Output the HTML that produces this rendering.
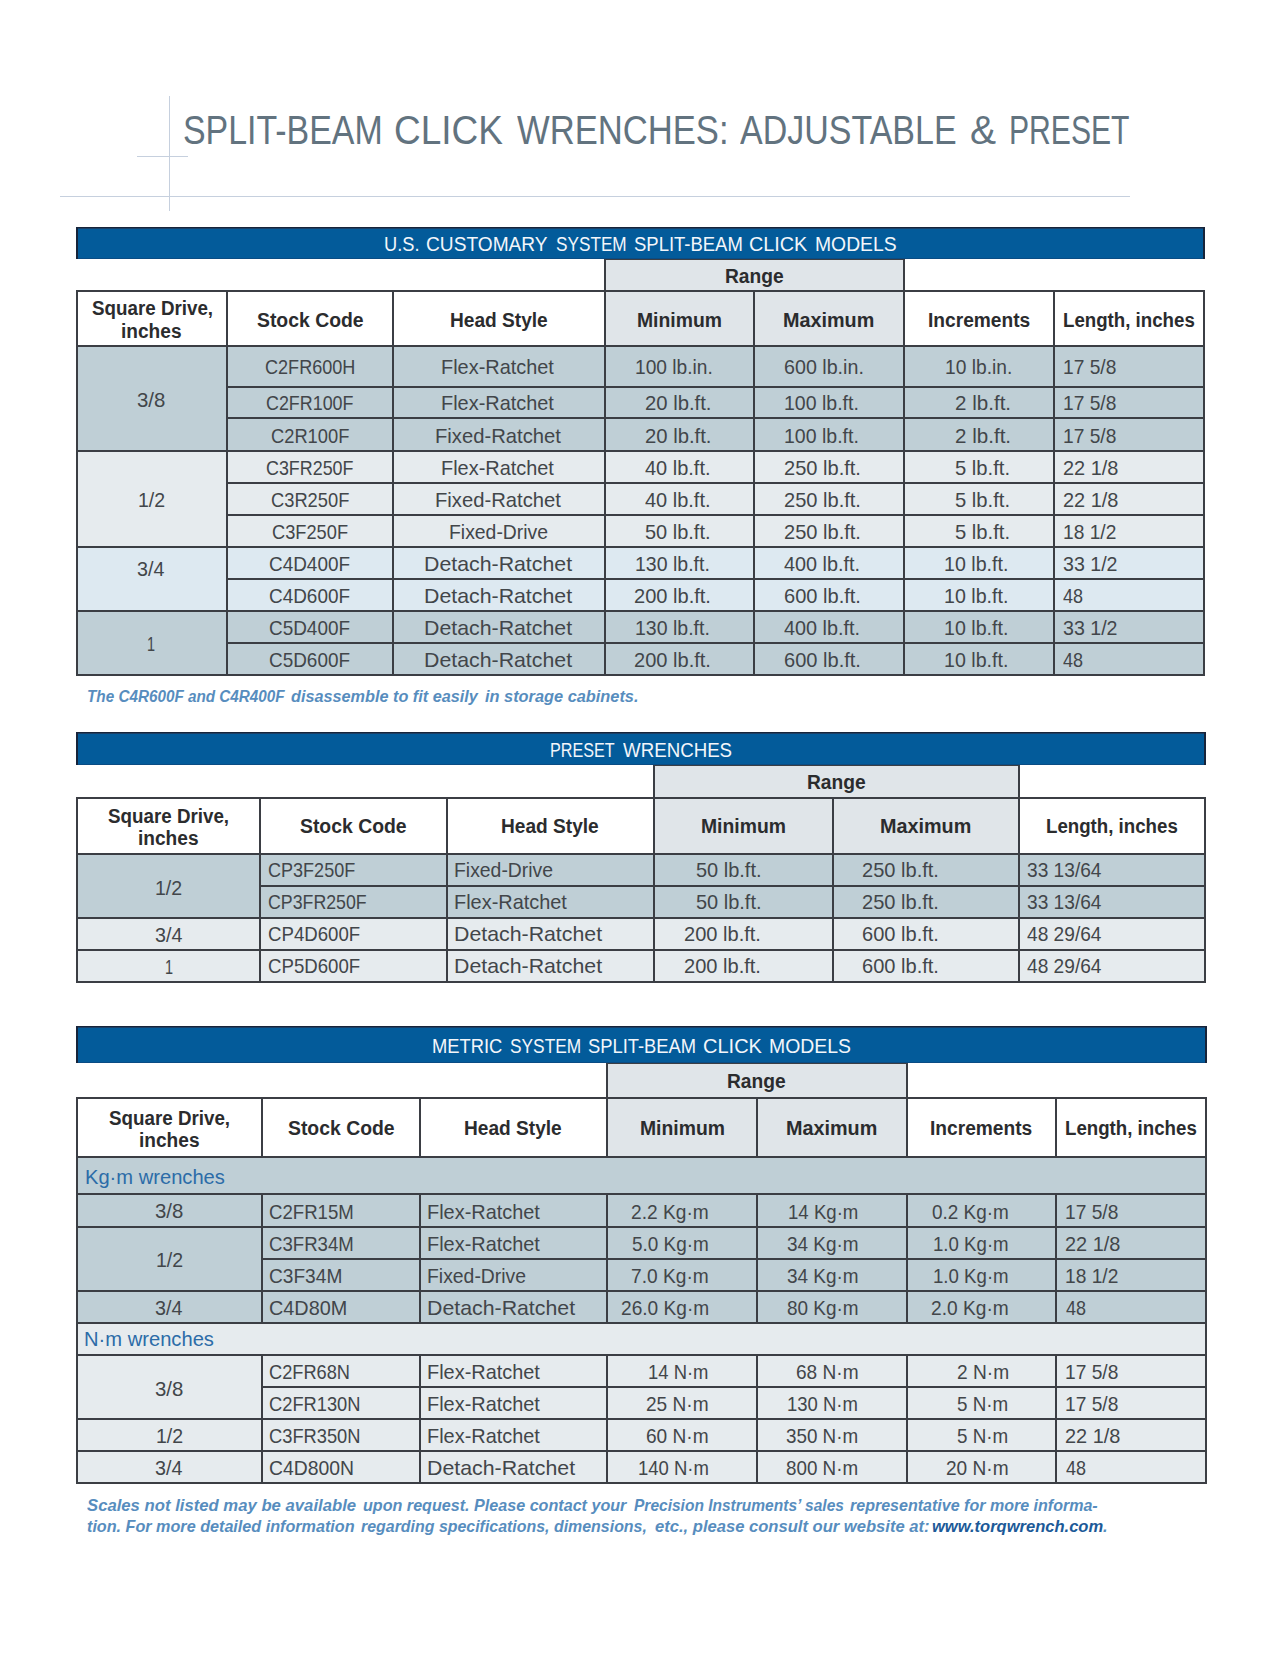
<!DOCTYPE html>
<html><head><meta charset="utf-8"><title>Split-Beam Click Wrenches: Adjustable &amp; Preset</title>
<style>
html,body{margin:0;padding:0;background:#fff}
body{width:1280px;height:1657px;position:relative;overflow:hidden;font-family:"Liberation Sans",Arial,sans-serif}
body>div{position:absolute}
.t{white-space:nowrap;transform-origin:0 0}
</style></head><body>
<div style="left:60px;top:196px;width:1070px;height:1px;background:#c6d0de"></div>
<div style="left:169px;top:96px;width:1px;height:115px;background:#c6d0de"></div>
<div style="left:137px;top:156px;width:51px;height:1px;background:#c6d0de"></div>
<div style="left:76px;top:227px;width:1129px;height:32px;background:#17243a"></div>
<div style="left:78px;top:228px;width:1125px;height:1px;background:#1b3f66"></div>
<div style="left:78px;top:229px;width:1125px;height:30px;background:#035b9a"></div>
<div style="left:78px;top:258px;width:1125px;height:1px;background:#0a4c84"></div>
<div style="left:604px;top:259px;width:301px;height:32px;background:#e0e5e9"></div>
<div style="left:604px;top:259px;width:301px;height:1px;background:#3b3e44"></div>
<div style="left:604px;top:259px;width:2px;height:32px;background:#3b3e44"></div>
<div style="left:903px;top:259px;width:2px;height:32px;background:#3b3e44"></div>
<div style="left:604px;top:290px;width:299px;height:55px;background:#e0e5e9"></div>
<div style="left:76px;top:345px;width:1129px;height:105px;background:#bfcfd6"></div>
<div style="left:76px;top:450px;width:1129px;height:96px;background:#e6ebee"></div>
<div style="left:76px;top:546px;width:1129px;height:64px;background:#dde9f1"></div>
<div style="left:76px;top:610px;width:1129px;height:64px;background:#bfcfd6"></div>
<div style="left:76px;top:290px;width:1129px;height:2px;background:#3b3e44"></div>
<div style="left:76px;top:345px;width:1129px;height:2px;background:#3b3e44"></div>
<div style="left:226px;top:386px;width:979px;height:2px;background:#3b3e44"></div>
<div style="left:226px;top:417px;width:979px;height:2px;background:#3b3e44"></div>
<div style="left:76px;top:450px;width:1129px;height:2px;background:#3b3e44"></div>
<div style="left:226px;top:482px;width:979px;height:2px;background:#3b3e44"></div>
<div style="left:226px;top:514px;width:979px;height:2px;background:#3b3e44"></div>
<div style="left:76px;top:546px;width:1129px;height:2px;background:#3b3e44"></div>
<div style="left:226px;top:578px;width:979px;height:2px;background:#3b3e44"></div>
<div style="left:76px;top:610px;width:1129px;height:2px;background:#3b3e44"></div>
<div style="left:226px;top:642px;width:979px;height:2px;background:#3b3e44"></div>
<div style="left:76px;top:674px;width:1129px;height:2px;background:#3b3e44"></div>
<div style="left:76px;top:290px;width:2px;height:386px;background:#3b3e44"></div>
<div style="left:226px;top:290px;width:2px;height:386px;background:#3b3e44"></div>
<div style="left:392px;top:290px;width:2px;height:386px;background:#3b3e44"></div>
<div style="left:604px;top:290px;width:2px;height:386px;background:#3b3e44"></div>
<div style="left:753px;top:290px;width:2px;height:386px;background:#3b3e44"></div>
<div style="left:903px;top:290px;width:2px;height:386px;background:#3b3e44"></div>
<div style="left:1053px;top:290px;width:2px;height:386px;background:#3b3e44"></div>
<div style="left:1203px;top:290px;width:2px;height:386px;background:#3b3e44"></div>
<div style="left:76px;top:732px;width:1130px;height:33px;background:#17243a"></div>
<div style="left:78px;top:733px;width:1126px;height:1px;background:#1b3f66"></div>
<div style="left:78px;top:734px;width:1126px;height:31px;background:#035b9a"></div>
<div style="left:78px;top:764px;width:1126px;height:1px;background:#0a4c84"></div>
<div style="left:653px;top:765px;width:367px;height:32px;background:#e0e5e9"></div>
<div style="left:653px;top:765px;width:367px;height:1px;background:#3b3e44"></div>
<div style="left:653px;top:765px;width:2px;height:32px;background:#3b3e44"></div>
<div style="left:1018px;top:765px;width:2px;height:32px;background:#3b3e44"></div>
<div style="left:653px;top:797px;width:365px;height:56px;background:#e0e5e9"></div>
<div style="left:76px;top:853px;width:1130px;height:64px;background:#bfcfd6"></div>
<div style="left:76px;top:917px;width:1130px;height:32px;background:#e6ebee"></div>
<div style="left:76px;top:949px;width:1130px;height:32px;background:#e6ebee"></div>
<div style="left:76px;top:797px;width:1130px;height:2px;background:#3b3e44"></div>
<div style="left:76px;top:853px;width:1130px;height:2px;background:#3b3e44"></div>
<div style="left:259px;top:885px;width:947px;height:2px;background:#3b3e44"></div>
<div style="left:76px;top:917px;width:1130px;height:2px;background:#3b3e44"></div>
<div style="left:76px;top:949px;width:1130px;height:2px;background:#3b3e44"></div>
<div style="left:76px;top:981px;width:1130px;height:2px;background:#3b3e44"></div>
<div style="left:76px;top:797px;width:2px;height:186px;background:#3b3e44"></div>
<div style="left:259px;top:797px;width:2px;height:186px;background:#3b3e44"></div>
<div style="left:446px;top:797px;width:2px;height:186px;background:#3b3e44"></div>
<div style="left:653px;top:797px;width:2px;height:186px;background:#3b3e44"></div>
<div style="left:832px;top:797px;width:2px;height:186px;background:#3b3e44"></div>
<div style="left:1018px;top:797px;width:2px;height:186px;background:#3b3e44"></div>
<div style="left:1204px;top:797px;width:2px;height:186px;background:#3b3e44"></div>
<div style="left:76px;top:1026px;width:1131px;height:37px;background:#17243a"></div>
<div style="left:78px;top:1027px;width:1127px;height:1px;background:#1b3f66"></div>
<div style="left:78px;top:1028px;width:1127px;height:35px;background:#035b9a"></div>
<div style="left:78px;top:1062px;width:1127px;height:1px;background:#0a4c84"></div>
<div style="left:606px;top:1063px;width:302px;height:35px;background:#e0e5e9"></div>
<div style="left:606px;top:1063px;width:302px;height:1px;background:#3b3e44"></div>
<div style="left:606px;top:1063px;width:2px;height:35px;background:#3b3e44"></div>
<div style="left:906px;top:1063px;width:2px;height:35px;background:#3b3e44"></div>
<div style="left:606px;top:1097px;width:300px;height:59px;background:#e0e5e9"></div>
<div style="left:76px;top:1156px;width:1131px;height:166px;background:#bfcfd6"></div>
<div style="left:76px;top:1322px;width:1131px;height:160px;background:#e6ebee"></div>
<div style="left:76px;top:1097px;width:1131px;height:2px;background:#3b3e44"></div>
<div style="left:76px;top:1156px;width:1131px;height:2px;background:#3b3e44"></div>
<div style="left:76px;top:1193px;width:1131px;height:2px;background:#3b3e44"></div>
<div style="left:76px;top:1226px;width:1131px;height:2px;background:#3b3e44"></div>
<div style="left:261px;top:1258px;width:946px;height:2px;background:#3b3e44"></div>
<div style="left:76px;top:1290px;width:1131px;height:2px;background:#3b3e44"></div>
<div style="left:76px;top:1322px;width:1131px;height:2px;background:#3b3e44"></div>
<div style="left:76px;top:1354px;width:1131px;height:2px;background:#3b3e44"></div>
<div style="left:261px;top:1386px;width:946px;height:2px;background:#3b3e44"></div>
<div style="left:76px;top:1418px;width:1131px;height:2px;background:#3b3e44"></div>
<div style="left:76px;top:1450px;width:1131px;height:2px;background:#3b3e44"></div>
<div style="left:76px;top:1482px;width:1131px;height:2px;background:#3b3e44"></div>
<div style="left:76px;top:1097px;width:2px;height:387px;background:#3b3e44"></div>
<div style="left:261px;top:1097px;width:2px;height:61px;background:#3b3e44"></div>
<div style="left:261px;top:1193px;width:2px;height:131px;background:#3b3e44"></div>
<div style="left:261px;top:1354px;width:2px;height:130px;background:#3b3e44"></div>
<div style="left:419px;top:1097px;width:2px;height:61px;background:#3b3e44"></div>
<div style="left:419px;top:1193px;width:2px;height:131px;background:#3b3e44"></div>
<div style="left:419px;top:1354px;width:2px;height:130px;background:#3b3e44"></div>
<div style="left:606px;top:1097px;width:2px;height:61px;background:#3b3e44"></div>
<div style="left:606px;top:1193px;width:2px;height:131px;background:#3b3e44"></div>
<div style="left:606px;top:1354px;width:2px;height:130px;background:#3b3e44"></div>
<div style="left:756px;top:1097px;width:2px;height:61px;background:#3b3e44"></div>
<div style="left:756px;top:1193px;width:2px;height:131px;background:#3b3e44"></div>
<div style="left:756px;top:1354px;width:2px;height:130px;background:#3b3e44"></div>
<div style="left:906px;top:1097px;width:2px;height:61px;background:#3b3e44"></div>
<div style="left:906px;top:1193px;width:2px;height:131px;background:#3b3e44"></div>
<div style="left:906px;top:1354px;width:2px;height:130px;background:#3b3e44"></div>
<div style="left:1055px;top:1097px;width:2px;height:61px;background:#3b3e44"></div>
<div style="left:1055px;top:1193px;width:2px;height:131px;background:#3b3e44"></div>
<div style="left:1055px;top:1354px;width:2px;height:130px;background:#3b3e44"></div>
<div style="left:1205px;top:1097px;width:2px;height:387px;background:#3b3e44"></div>
<div class="t" style="left:183.27px;top:109.95px;font-size:40.7px;line-height:40.7px;color:#62737f;transform:scaleX(0.8330);">SPLIT-BEAM</div>
<div class="t" style="left:394.48px;top:109.95px;font-size:40.7px;line-height:40.7px;color:#62737f;transform:scaleX(0.9082);">CLICK</div>
<div class="t" style="left:517.20px;top:109.95px;font-size:40.7px;line-height:40.7px;color:#62737f;transform:scaleX(0.8506);">WRENCHES:</div>
<div class="t" style="left:740.20px;top:109.95px;font-size:40.7px;line-height:40.7px;color:#62737f;transform:scaleX(0.8353);">ADJUSTABLE</div>
<div class="t" style="left:969.94px;top:109.95px;font-size:40.7px;line-height:40.7px;color:#62737f;transform:scaleX(0.9615);">&amp;</div>
<div class="t" style="left:1008.98px;top:109.95px;font-size:40.7px;line-height:40.7px;color:#62737f;transform:scaleX(0.7399);">PRESET</div>
<div class="t" style="left:383.60px;top:234.32px;font-size:20.3px;line-height:20.3px;color:#f3f6fa;transform:scaleX(0.8992);">U.S.</div>
<div class="t" style="left:426.16px;top:234.32px;font-size:20.3px;line-height:20.3px;color:#f3f6fa;transform:scaleX(0.9437);">CUSTOMARY</div>
<div class="t" style="left:556.30px;top:234.32px;font-size:20.3px;line-height:20.3px;color:#f3f6fa;transform:scaleX(0.8473);">SYSTEM</div>
<div class="t" style="left:633.80px;top:234.32px;font-size:20.3px;line-height:20.3px;color:#f3f6fa;transform:scaleX(0.9108);">SPLIT-BEAM</div>
<div class="t" style="left:748.82px;top:234.32px;font-size:20.3px;line-height:20.3px;color:#f3f6fa;transform:scaleX(0.9762);">CLICK</div>
<div class="t" style="left:815.05px;top:234.32px;font-size:20.3px;line-height:20.3px;color:#f3f6fa;transform:scaleX(0.9534);">MODELS</div>
<div class="t" style="left:724.80px;top:266.12px;font-size:20.3px;line-height:20.3px;color:#2b2c2e;font-weight:700;transform:scaleX(0.9472);">Range</div>
<div class="t" style="left:91.75px;top:298.22px;font-size:20.3px;line-height:20.3px;color:#2b2c2e;font-weight:700;transform:scaleX(0.9260);">Square Drive,</div>
<div class="t" style="left:121.41px;top:320.92px;font-size:20.3px;line-height:20.3px;color:#2b2c2e;font-weight:700;transform:scaleX(0.9417);">inches</div>
<div class="t" style="left:256.85px;top:309.82px;font-size:20.3px;line-height:20.3px;color:#2b2c2e;font-weight:700;transform:scaleX(0.9552);">Stock Code</div>
<div class="t" style="left:449.81px;top:309.82px;font-size:20.3px;line-height:20.3px;color:#2b2c2e;font-weight:700;transform:scaleX(0.9422);">Head Style</div>
<div class="t" style="left:637.05px;top:309.82px;font-size:20.3px;line-height:20.3px;color:#2b2c2e;font-weight:700;transform:scaleX(0.9543);">Minimum</div>
<div class="t" style="left:783.37px;top:309.82px;font-size:20.3px;line-height:20.3px;color:#2b2c2e;font-weight:700;transform:scaleX(0.9758);">Maximum</div>
<div class="t" style="left:927.56px;top:309.82px;font-size:20.3px;line-height:20.3px;color:#2b2c2e;font-weight:700;transform:scaleX(0.9445);">Increments</div>
<div class="t" style="left:1062.78px;top:309.82px;font-size:20.3px;line-height:20.3px;color:#2b2c2e;font-weight:700;transform:scaleX(0.9208);">Length, inches</div>
<div class="t" style="left:264.88px;top:356.22px;font-size:21px;line-height:21px;color:#42464a;transform:scaleX(0.8605);">C2FR600H</div>
<div class="t" style="left:441.29px;top:356.22px;font-size:21px;line-height:21px;color:#42464a;transform:scaleX(0.9485);">Flex-Ratchet</div>
<div class="t" style="left:635.25px;top:356.22px;font-size:21px;line-height:21px;color:#42464a;transform:scaleX(0.9118);">100 lb.in.</div>
<div class="t" style="left:784.10px;top:356.22px;font-size:21px;line-height:21px;color:#42464a;transform:scaleX(0.9370);">600 lb.in.</div>
<div class="t" style="left:944.64px;top:356.22px;font-size:21px;line-height:21px;color:#42464a;transform:scaleX(0.9143);">10 lb.in.</div>
<div class="t" style="left:1062.80px;top:356.22px;font-size:21px;line-height:21px;color:#42464a;transform:scaleX(0.9132);">17 5/8</div>
<div class="t" style="left:266.19px;top:392.02px;font-size:21px;line-height:21px;color:#42464a;transform:scaleX(0.8517);">C2FR100F</div>
<div class="t" style="left:441.29px;top:392.02px;font-size:21px;line-height:21px;color:#42464a;transform:scaleX(0.9485);">Flex-Ratchet</div>
<div class="t" style="left:644.65px;top:392.02px;font-size:21px;line-height:21px;color:#42464a;transform:scaleX(0.9656);">20 lb.ft.</div>
<div class="t" style="left:784.10px;top:392.02px;font-size:21px;line-height:21px;color:#42464a;transform:scaleX(0.9285);">100 lb.ft.</div>
<div class="t" style="left:954.55px;top:392.02px;font-size:21px;line-height:21px;color:#42464a;transform:scaleX(0.9804);">2 lb.ft.</div>
<div class="t" style="left:1062.80px;top:392.02px;font-size:21px;line-height:21px;color:#42464a;transform:scaleX(0.9132);">17 5/8</div>
<div class="t" style="left:270.75px;top:425.02px;font-size:21px;line-height:21px;color:#42464a;transform:scaleX(0.8717);">C2R100F</div>
<div class="t" style="left:434.81px;top:425.02px;font-size:21px;line-height:21px;color:#42464a;transform:scaleX(0.9629);">Fixed-Ratchet</div>
<div class="t" style="left:644.65px;top:425.02px;font-size:21px;line-height:21px;color:#42464a;transform:scaleX(0.9656);">20 lb.ft.</div>
<div class="t" style="left:784.10px;top:425.02px;font-size:21px;line-height:21px;color:#42464a;transform:scaleX(0.9285);">100 lb.ft.</div>
<div class="t" style="left:954.55px;top:425.02px;font-size:21px;line-height:21px;color:#42464a;transform:scaleX(0.9804);">2 lb.ft.</div>
<div class="t" style="left:1062.80px;top:425.02px;font-size:21px;line-height:21px;color:#42464a;transform:scaleX(0.9132);">17 5/8</div>
<div class="t" style="left:266.19px;top:457.02px;font-size:21px;line-height:21px;color:#42464a;transform:scaleX(0.8517);">C3FR250F</div>
<div class="t" style="left:441.29px;top:457.02px;font-size:21px;line-height:21px;color:#42464a;transform:scaleX(0.9485);">Flex-Ratchet</div>
<div class="t" style="left:644.98px;top:457.02px;font-size:21px;line-height:21px;color:#42464a;transform:scaleX(0.9512);">40 lb.ft.</div>
<div class="t" style="left:784.10px;top:457.02px;font-size:21px;line-height:21px;color:#42464a;transform:scaleX(0.9552);">250 lb.ft.</div>
<div class="t" style="left:954.76px;top:457.02px;font-size:21px;line-height:21px;color:#42464a;transform:scaleX(0.9627);">5 lb.ft.</div>
<div class="t" style="left:1062.80px;top:457.02px;font-size:21px;line-height:21px;color:#42464a;transform:scaleX(0.9499);">22 1/8</div>
<div class="t" style="left:270.75px;top:489.02px;font-size:21px;line-height:21px;color:#42464a;transform:scaleX(0.8717);">C3R250F</div>
<div class="t" style="left:434.81px;top:489.02px;font-size:21px;line-height:21px;color:#42464a;transform:scaleX(0.9629);">Fixed-Ratchet</div>
<div class="t" style="left:644.98px;top:489.02px;font-size:21px;line-height:21px;color:#42464a;transform:scaleX(0.9512);">40 lb.ft.</div>
<div class="t" style="left:784.10px;top:489.02px;font-size:21px;line-height:21px;color:#42464a;transform:scaleX(0.9552);">250 lb.ft.</div>
<div class="t" style="left:954.76px;top:489.02px;font-size:21px;line-height:21px;color:#42464a;transform:scaleX(0.9627);">5 lb.ft.</div>
<div class="t" style="left:1062.80px;top:489.02px;font-size:21px;line-height:21px;color:#42464a;transform:scaleX(0.9499);">22 1/8</div>
<div class="t" style="left:271.91px;top:521.02px;font-size:21px;line-height:21px;color:#42464a;transform:scaleX(0.8686);">C3F250F</div>
<div class="t" style="left:448.61px;top:521.02px;font-size:21px;line-height:21px;color:#42464a;transform:scaleX(0.9231);">Fixed-Drive</div>
<div class="t" style="left:644.98px;top:521.02px;font-size:21px;line-height:21px;color:#42464a;transform:scaleX(0.9512);">50 lb.ft.</div>
<div class="t" style="left:784.10px;top:521.02px;font-size:21px;line-height:21px;color:#42464a;transform:scaleX(0.9552);">250 lb.ft.</div>
<div class="t" style="left:954.76px;top:521.02px;font-size:21px;line-height:21px;color:#42464a;transform:scaleX(0.9627);">5 lb.ft.</div>
<div class="t" style="left:1062.80px;top:521.02px;font-size:21px;line-height:21px;color:#42464a;transform:scaleX(0.9132);">18 1/2</div>
<div class="t" style="left:269.43px;top:553.02px;font-size:21px;line-height:21px;color:#42464a;transform:scaleX(0.9011);">C4D400F</div>
<div class="t" style="left:423.67px;top:553.02px;font-size:21px;line-height:21px;color:#42464a;transform:scaleX(1.0149);">Detach-Ratchet</div>
<div class="t" style="left:634.67px;top:553.02px;font-size:21px;line-height:21px;color:#42464a;transform:scaleX(0.9285);">130 lb.ft.</div>
<div class="t" style="left:784.10px;top:553.02px;font-size:21px;line-height:21px;color:#42464a;transform:scaleX(0.9431);">400 lb.ft.</div>
<div class="t" style="left:944.18px;top:553.02px;font-size:21px;line-height:21px;color:#42464a;transform:scaleX(0.9341);">10 lb.ft.</div>
<div class="t" style="left:1062.80px;top:553.02px;font-size:21px;line-height:21px;color:#42464a;transform:scaleX(0.9334);">33 1/2</div>
<div class="t" style="left:269.43px;top:585.02px;font-size:21px;line-height:21px;color:#42464a;transform:scaleX(0.9011);">C4D600F</div>
<div class="t" style="left:423.67px;top:585.02px;font-size:21px;line-height:21px;color:#42464a;transform:scaleX(1.0149);">Detach-Ratchet</div>
<div class="t" style="left:633.73px;top:585.02px;font-size:21px;line-height:21px;color:#42464a;transform:scaleX(0.9552);">200 lb.ft.</div>
<div class="t" style="left:784.10px;top:585.02px;font-size:21px;line-height:21px;color:#42464a;transform:scaleX(0.9552);">600 lb.ft.</div>
<div class="t" style="left:944.18px;top:585.02px;font-size:21px;line-height:21px;color:#42464a;transform:scaleX(0.9341);">10 lb.ft.</div>
<div class="t" style="left:1062.80px;top:585.02px;font-size:21px;line-height:21px;color:#42464a;transform:scaleX(0.8567);">48</div>
<div class="t" style="left:269.43px;top:617.02px;font-size:21px;line-height:21px;color:#42464a;transform:scaleX(0.9011);">C5D400F</div>
<div class="t" style="left:423.67px;top:617.02px;font-size:21px;line-height:21px;color:#42464a;transform:scaleX(1.0149);">Detach-Ratchet</div>
<div class="t" style="left:634.67px;top:617.02px;font-size:21px;line-height:21px;color:#42464a;transform:scaleX(0.9285);">130 lb.ft.</div>
<div class="t" style="left:784.10px;top:617.02px;font-size:21px;line-height:21px;color:#42464a;transform:scaleX(0.9431);">400 lb.ft.</div>
<div class="t" style="left:944.18px;top:617.02px;font-size:21px;line-height:21px;color:#42464a;transform:scaleX(0.9341);">10 lb.ft.</div>
<div class="t" style="left:1062.80px;top:617.02px;font-size:21px;line-height:21px;color:#42464a;transform:scaleX(0.9334);">33 1/2</div>
<div class="t" style="left:269.43px;top:649.02px;font-size:21px;line-height:21px;color:#42464a;transform:scaleX(0.9011);">C5D600F</div>
<div class="t" style="left:423.67px;top:649.02px;font-size:21px;line-height:21px;color:#42464a;transform:scaleX(1.0149);">Detach-Ratchet</div>
<div class="t" style="left:633.73px;top:649.02px;font-size:21px;line-height:21px;color:#42464a;transform:scaleX(0.9552);">200 lb.ft.</div>
<div class="t" style="left:784.10px;top:649.02px;font-size:21px;line-height:21px;color:#42464a;transform:scaleX(0.9552);">600 lb.ft.</div>
<div class="t" style="left:944.18px;top:649.02px;font-size:21px;line-height:21px;color:#42464a;transform:scaleX(0.9341);">10 lb.ft.</div>
<div class="t" style="left:1062.80px;top:649.02px;font-size:21px;line-height:21px;color:#42464a;transform:scaleX(0.8567);">48</div>
<div class="t" style="left:137.46px;top:389.22px;font-size:21px;line-height:21px;color:#42464a;transform:scaleX(0.9711);">3/8</div>
<div class="t" style="left:137.56px;top:489.32px;font-size:21px;line-height:21px;color:#42464a;transform:scaleX(0.9308);">1/2</div>
<div class="t" style="left:137.46px;top:558.02px;font-size:21px;line-height:21px;color:#42464a;transform:scaleX(0.9382);">3/4</div>
<div class="t" style="left:147.17px;top:633.22px;font-size:21px;line-height:21px;color:#42464a;transform:scaleX(0.6880);">1</div>
<div class="t" style="left:87.02px;top:687.87px;font-size:17.4px;line-height:17.4px;color:#578dbe;font-weight:700;font-style:italic;transform:scaleX(0.8777);">The C4R600F and C4R400F</div>
<div class="t" style="left:290.70px;top:687.87px;font-size:17.4px;line-height:17.4px;color:#578dbe;font-weight:700;font-style:italic;transform:scaleX(0.9339);">disassemble to fit easily</div>
<div class="t" style="left:484.60px;top:687.87px;font-size:17.4px;line-height:17.4px;color:#578dbe;font-weight:700;font-style:italic;transform:scaleX(0.9397);">in storage cabinets.</div>
<div class="t" style="left:550.45px;top:739.92px;font-size:20.3px;line-height:20.3px;color:#f3f6fa;transform:scaleX(0.7955);">PRESET</div>
<div class="t" style="left:622.80px;top:739.92px;font-size:20.3px;line-height:20.3px;color:#f3f6fa;transform:scaleX(0.9220);">WRENCHES</div>
<div class="t" style="left:806.80px;top:772.22px;font-size:20.3px;line-height:20.3px;color:#2b2c2e;font-weight:700;transform:scaleX(0.9472);">Range</div>
<div class="t" style="left:108.25px;top:805.52px;font-size:20.3px;line-height:20.3px;color:#2b2c2e;font-weight:700;transform:scaleX(0.9260);">Square Drive,</div>
<div class="t" style="left:137.91px;top:827.92px;font-size:20.3px;line-height:20.3px;color:#2b2c2e;font-weight:700;transform:scaleX(0.9417);">inches</div>
<div class="t" style="left:300.35px;top:816.32px;font-size:20.3px;line-height:20.3px;color:#2b2c2e;font-weight:700;transform:scaleX(0.9552);">Stock Code</div>
<div class="t" style="left:501.31px;top:816.32px;font-size:20.3px;line-height:20.3px;color:#2b2c2e;font-weight:700;transform:scaleX(0.9422);">Head Style</div>
<div class="t" style="left:701.05px;top:816.32px;font-size:20.3px;line-height:20.3px;color:#2b2c2e;font-weight:700;transform:scaleX(0.9543);">Minimum</div>
<div class="t" style="left:880.37px;top:816.32px;font-size:20.3px;line-height:20.3px;color:#2b2c2e;font-weight:700;transform:scaleX(0.9758);">Maximum</div>
<div class="t" style="left:1045.78px;top:816.32px;font-size:20.3px;line-height:20.3px;color:#2b2c2e;font-weight:700;transform:scaleX(0.9208);">Length, inches</div>
<div class="t" style="left:267.74px;top:859.42px;font-size:21px;line-height:21px;color:#42464a;transform:scaleX(0.8588);">CP3F250F</div>
<div class="t" style="left:454.28px;top:859.42px;font-size:21px;line-height:21px;color:#42464a;transform:scaleX(0.9231);">Fixed-Drive</div>
<div class="t" style="left:695.53px;top:859.42px;font-size:21px;line-height:21px;color:#42464a;transform:scaleX(0.9512);">50 lb.ft.</div>
<div class="t" style="left:861.84px;top:859.42px;font-size:21px;line-height:21px;color:#42464a;transform:scaleX(0.9552);">250 lb.ft.</div>
<div class="t" style="left:1026.90px;top:859.42px;font-size:21px;line-height:21px;color:#42464a;transform:scaleX(0.9115);">33 13/64</div>
<div class="t" style="left:267.75px;top:891.42px;font-size:21px;line-height:21px;color:#42464a;transform:scaleX(0.8453);">CP3FR250F</div>
<div class="t" style="left:454.25px;top:891.42px;font-size:21px;line-height:21px;color:#42464a;transform:scaleX(0.9485);">Flex-Ratchet</div>
<div class="t" style="left:695.53px;top:891.42px;font-size:21px;line-height:21px;color:#42464a;transform:scaleX(0.9512);">50 lb.ft.</div>
<div class="t" style="left:861.84px;top:891.42px;font-size:21px;line-height:21px;color:#42464a;transform:scaleX(0.9552);">250 lb.ft.</div>
<div class="t" style="left:1026.90px;top:891.42px;font-size:21px;line-height:21px;color:#42464a;transform:scaleX(0.9115);">33 13/64</div>
<div class="t" style="left:267.71px;top:923.42px;font-size:21px;line-height:21px;color:#42464a;transform:scaleX(0.8871);">CP4D600F</div>
<div class="t" style="left:454.19px;top:923.42px;font-size:21px;line-height:21px;color:#42464a;transform:scaleX(1.0149);">Detach-Ratchet</div>
<div class="t" style="left:684.11px;top:923.42px;font-size:21px;line-height:21px;color:#42464a;transform:scaleX(0.9552);">200 lb.ft.</div>
<div class="t" style="left:861.84px;top:923.42px;font-size:21px;line-height:21px;color:#42464a;transform:scaleX(0.9552);">600 lb.ft.</div>
<div class="t" style="left:1026.90px;top:923.42px;font-size:21px;line-height:21px;color:#42464a;transform:scaleX(0.9115);">48 29/64</div>
<div class="t" style="left:267.71px;top:955.42px;font-size:21px;line-height:21px;color:#42464a;transform:scaleX(0.8871);">CP5D600F</div>
<div class="t" style="left:454.19px;top:955.42px;font-size:21px;line-height:21px;color:#42464a;transform:scaleX(1.0149);">Detach-Ratchet</div>
<div class="t" style="left:684.11px;top:955.42px;font-size:21px;line-height:21px;color:#42464a;transform:scaleX(0.9552);">200 lb.ft.</div>
<div class="t" style="left:861.84px;top:955.42px;font-size:21px;line-height:21px;color:#42464a;transform:scaleX(0.9552);">600 lb.ft.</div>
<div class="t" style="left:1026.90px;top:955.42px;font-size:21px;line-height:21px;color:#42464a;transform:scaleX(0.9115);">48 29/64</div>
<div class="t" style="left:155.06px;top:876.62px;font-size:21px;line-height:21px;color:#42464a;transform:scaleX(0.9308);">1/2</div>
<div class="t" style="left:154.96px;top:924.12px;font-size:21px;line-height:21px;color:#42464a;transform:scaleX(0.9382);">3/4</div>
<div class="t" style="left:164.67px;top:956.02px;font-size:21px;line-height:21px;color:#42464a;transform:scaleX(0.6880);">1</div>
<div class="t" style="left:431.80px;top:1036.22px;font-size:20.3px;line-height:20.3px;color:#f3f6fa;transform:scaleX(0.9042);">METRIC</div>
<div class="t" style="left:510.10px;top:1036.22px;font-size:20.3px;line-height:20.3px;color:#f3f6fa;transform:scaleX(0.8546);">SYSTEM</div>
<div class="t" style="left:588.30px;top:1036.22px;font-size:20.3px;line-height:20.3px;color:#f3f6fa;transform:scaleX(0.9049);">SPLIT-BEAM</div>
<div class="t" style="left:702.71px;top:1036.22px;font-size:20.3px;line-height:20.3px;color:#f3f6fa;transform:scaleX(0.9864);">CLICK</div>
<div class="t" style="left:769.24px;top:1036.22px;font-size:20.3px;line-height:20.3px;color:#f3f6fa;transform:scaleX(0.9569);">MODELS</div>
<div class="t" style="left:727.30px;top:1071.42px;font-size:20.3px;line-height:20.3px;color:#2b2c2e;font-weight:700;transform:scaleX(0.9472);">Range</div>
<div class="t" style="left:109.25px;top:1107.62px;font-size:20.3px;line-height:20.3px;color:#2b2c2e;font-weight:700;transform:scaleX(0.9260);">Square Drive,</div>
<div class="t" style="left:138.91px;top:1130.02px;font-size:20.3px;line-height:20.3px;color:#2b2c2e;font-weight:700;transform:scaleX(0.9417);">inches</div>
<div class="t" style="left:287.85px;top:1118.32px;font-size:20.3px;line-height:20.3px;color:#2b2c2e;font-weight:700;transform:scaleX(0.9552);">Stock Code</div>
<div class="t" style="left:464.31px;top:1118.32px;font-size:20.3px;line-height:20.3px;color:#2b2c2e;font-weight:700;transform:scaleX(0.9422);">Head Style</div>
<div class="t" style="left:639.55px;top:1118.32px;font-size:20.3px;line-height:20.3px;color:#2b2c2e;font-weight:700;transform:scaleX(0.9543);">Minimum</div>
<div class="t" style="left:786.37px;top:1118.32px;font-size:20.3px;line-height:20.3px;color:#2b2c2e;font-weight:700;transform:scaleX(0.9758);">Maximum</div>
<div class="t" style="left:930.06px;top:1118.32px;font-size:20.3px;line-height:20.3px;color:#2b2c2e;font-weight:700;transform:scaleX(0.9445);">Increments</div>
<div class="t" style="left:1064.78px;top:1118.32px;font-size:20.3px;line-height:20.3px;color:#2b2c2e;font-weight:700;transform:scaleX(0.9208);">Length, inches</div>
<div class="t" style="left:84.54px;top:1165.92px;font-size:21px;line-height:21px;color:#2c6ca8;transform:scaleX(0.9586);">Kg·m wrenches</div>
<div class="t" style="left:84.34px;top:1328.42px;font-size:21px;line-height:21px;color:#2c6ca8;transform:scaleX(0.9600);">N·m wrenches</div>
<div class="t" style="left:269.31px;top:1200.62px;font-size:21px;line-height:21px;color:#42464a;transform:scaleX(0.8854);">C2FR15M</div>
<div class="t" style="left:427.25px;top:1200.62px;font-size:21px;line-height:21px;color:#42464a;transform:scaleX(0.9485);">Flex-Ratchet</div>
<div class="t" style="left:631.11px;top:1200.62px;font-size:21px;line-height:21px;color:#42464a;transform:scaleX(0.9124);">2.2 Kg·m</div>
<div class="t" style="left:788.05px;top:1200.62px;font-size:21px;line-height:21px;color:#42464a;transform:scaleX(0.8868);">14 Kg·m</div>
<div class="t" style="left:931.83px;top:1200.62px;font-size:21px;line-height:21px;color:#42464a;transform:scaleX(0.9016);">0.2 Kg·m</div>
<div class="t" style="left:1065.39px;top:1200.62px;font-size:21px;line-height:21px;color:#42464a;transform:scaleX(0.9132);">17 5/8</div>
<div class="t" style="left:269.31px;top:1232.62px;font-size:21px;line-height:21px;color:#42464a;transform:scaleX(0.8854);">C3FR34M</div>
<div class="t" style="left:427.25px;top:1232.62px;font-size:21px;line-height:21px;color:#42464a;transform:scaleX(0.9485);">Flex-Ratchet</div>
<div class="t" style="left:632.03px;top:1232.62px;font-size:21px;line-height:21px;color:#42464a;transform:scaleX(0.9016);">5.0 Kg·m</div>
<div class="t" style="left:786.86px;top:1232.62px;font-size:21px;line-height:21px;color:#42464a;transform:scaleX(0.9020);">34 Kg·m</div>
<div class="t" style="left:933.02px;top:1232.62px;font-size:21px;line-height:21px;color:#42464a;transform:scaleX(0.8876);">1.0 Kg·m</div>
<div class="t" style="left:1065.35px;top:1232.62px;font-size:21px;line-height:21px;color:#42464a;transform:scaleX(0.9499);">22 1/8</div>
<div class="t" style="left:269.29px;top:1264.62px;font-size:21px;line-height:21px;color:#42464a;transform:scaleX(0.9105);">C3F34M</div>
<div class="t" style="left:427.28px;top:1264.62px;font-size:21px;line-height:21px;color:#42464a;transform:scaleX(0.9231);">Fixed-Drive</div>
<div class="t" style="left:631.11px;top:1264.62px;font-size:21px;line-height:21px;color:#42464a;transform:scaleX(0.9124);">7.0 Kg·m</div>
<div class="t" style="left:786.86px;top:1264.62px;font-size:21px;line-height:21px;color:#42464a;transform:scaleX(0.9020);">34 Kg·m</div>
<div class="t" style="left:933.02px;top:1264.62px;font-size:21px;line-height:21px;color:#42464a;transform:scaleX(0.8876);">1.0 Kg·m</div>
<div class="t" style="left:1065.39px;top:1264.62px;font-size:21px;line-height:21px;color:#42464a;transform:scaleX(0.9132);">18 1/2</div>
<div class="t" style="left:269.26px;top:1296.62px;font-size:21px;line-height:21px;color:#42464a;transform:scaleX(0.9449);">C4D80M</div>
<div class="t" style="left:427.19px;top:1296.62px;font-size:21px;line-height:21px;color:#42464a;transform:scaleX(1.0149);">Detach-Ratchet</div>
<div class="t" style="left:620.64px;top:1296.62px;font-size:21px;line-height:21px;color:#42464a;transform:scaleX(0.9105);">26.0 Kg·m</div>
<div class="t" style="left:786.86px;top:1296.62px;font-size:21px;line-height:21px;color:#42464a;transform:scaleX(0.9020);">80 Kg·m</div>
<div class="t" style="left:930.91px;top:1296.62px;font-size:21px;line-height:21px;color:#42464a;transform:scaleX(0.9124);">2.0 Kg·m</div>
<div class="t" style="left:1066.30px;top:1296.62px;font-size:21px;line-height:21px;color:#42464a;transform:scaleX(0.8567);">48</div>
<div class="t" style="left:269.33px;top:1360.82px;font-size:21px;line-height:21px;color:#42464a;transform:scaleX(0.8677);">C2FR68N</div>
<div class="t" style="left:427.25px;top:1360.82px;font-size:21px;line-height:21px;color:#42464a;transform:scaleX(0.9485);">Flex-Ratchet</div>
<div class="t" style="left:648.36px;top:1360.82px;font-size:21px;line-height:21px;color:#42464a;transform:scaleX(0.8783);">14 N·m</div>
<div class="t" style="left:795.85px;top:1360.82px;font-size:21px;line-height:21px;color:#42464a;transform:scaleX(0.9092);">68 N·m</div>
<div class="t" style="left:956.52px;top:1360.82px;font-size:21px;line-height:21px;color:#42464a;transform:scaleX(0.9119);">2 N·m</div>
<div class="t" style="left:1065.39px;top:1360.82px;font-size:21px;line-height:21px;color:#42464a;transform:scaleX(0.9132);">17 5/8</div>
<div class="t" style="left:269.33px;top:1392.82px;font-size:21px;line-height:21px;color:#42464a;transform:scaleX(0.8710);">C2FR130N</div>
<div class="t" style="left:427.25px;top:1392.82px;font-size:21px;line-height:21px;color:#42464a;transform:scaleX(0.9485);">Flex-Ratchet</div>
<div class="t" style="left:646.25px;top:1392.82px;font-size:21px;line-height:21px;color:#42464a;transform:scaleX(0.9092);">25 N·m</div>
<div class="t" style="left:787.49px;top:1392.82px;font-size:21px;line-height:21px;color:#42464a;transform:scaleX(0.8810);">130 N·m</div>
<div class="t" style="left:957.43px;top:1392.82px;font-size:21px;line-height:21px;color:#42464a;transform:scaleX(0.8958);">5 N·m</div>
<div class="t" style="left:1065.39px;top:1392.82px;font-size:21px;line-height:21px;color:#42464a;transform:scaleX(0.9132);">17 5/8</div>
<div class="t" style="left:269.33px;top:1424.82px;font-size:21px;line-height:21px;color:#42464a;transform:scaleX(0.8710);">C3FR350N</div>
<div class="t" style="left:427.25px;top:1424.82px;font-size:21px;line-height:21px;color:#42464a;transform:scaleX(0.9485);">Flex-Ratchet</div>
<div class="t" style="left:646.25px;top:1424.82px;font-size:21px;line-height:21px;color:#42464a;transform:scaleX(0.9092);">60 N·m</div>
<div class="t" style="left:786.29px;top:1424.82px;font-size:21px;line-height:21px;color:#42464a;transform:scaleX(0.8960);">350 N·m</div>
<div class="t" style="left:957.43px;top:1424.82px;font-size:21px;line-height:21px;color:#42464a;transform:scaleX(0.8958);">5 N·m</div>
<div class="t" style="left:1065.35px;top:1424.82px;font-size:21px;line-height:21px;color:#42464a;transform:scaleX(0.9499);">22 1/8</div>
<div class="t" style="left:269.28px;top:1456.82px;font-size:21px;line-height:21px;color:#42464a;transform:scaleX(0.9220);">C4D800N</div>
<div class="t" style="left:427.19px;top:1456.82px;font-size:21px;line-height:21px;color:#42464a;transform:scaleX(1.0149);">Detach-Ratchet</div>
<div class="t" style="left:637.89px;top:1456.82px;font-size:21px;line-height:21px;color:#42464a;transform:scaleX(0.8810);">140 N·m</div>
<div class="t" style="left:786.29px;top:1456.82px;font-size:21px;line-height:21px;color:#42464a;transform:scaleX(0.8960);">800 N·m</div>
<div class="t" style="left:946.05px;top:1456.82px;font-size:21px;line-height:21px;color:#42464a;transform:scaleX(0.9092);">20 N·m</div>
<div class="t" style="left:1066.30px;top:1456.82px;font-size:21px;line-height:21px;color:#42464a;transform:scaleX(0.8567);">48</div>
<div class="t" style="left:155.46px;top:1200.12px;font-size:21px;line-height:21px;color:#42464a;transform:scaleX(0.9711);">3/8</div>
<div class="t" style="left:155.56px;top:1248.62px;font-size:21px;line-height:21px;color:#42464a;transform:scaleX(0.9308);">1/2</div>
<div class="t" style="left:155.46px;top:1296.82px;font-size:21px;line-height:21px;color:#42464a;transform:scaleX(0.9382);">3/4</div>
<div class="t" style="left:155.46px;top:1377.62px;font-size:21px;line-height:21px;color:#42464a;transform:scaleX(0.9711);">3/8</div>
<div class="t" style="left:155.56px;top:1425.32px;font-size:21px;line-height:21px;color:#42464a;transform:scaleX(0.9308);">1/2</div>
<div class="t" style="left:155.46px;top:1457.12px;font-size:21px;line-height:21px;color:#42464a;transform:scaleX(0.9382);">3/4</div>
<div class="t" style="left:87.00px;top:1497.01px;font-size:17.0px;line-height:17.0px;color:#578dbe;font-weight:700;font-style:italic;transform:scaleX(0.9819);">Scales not listed may be available</div>
<div class="t" style="left:362.60px;top:1497.01px;font-size:17.0px;line-height:17.0px;color:#578dbe;font-weight:700;font-style:italic;transform:scaleX(0.9483);">upon request. Please contact your</div>
<div class="t" style="left:634.30px;top:1497.01px;font-size:17.0px;line-height:17.0px;color:#578dbe;font-weight:700;font-style:italic;transform:scaleX(0.9131);">Precision Instruments’ sales</div>
<div class="t" style="left:850.00px;top:1497.01px;font-size:17.0px;line-height:17.0px;color:#578dbe;font-weight:700;font-style:italic;transform:scaleX(0.9431);">representative for more informa-</div>
<div class="t" style="left:87.00px;top:1517.51px;font-size:17.0px;line-height:17.0px;color:#578dbe;font-weight:700;font-style:italic;transform:scaleX(0.9507);">tion. For more detailed information</div>
<div class="t" style="left:361.20px;top:1517.51px;font-size:17.0px;line-height:17.0px;color:#578dbe;font-weight:700;font-style:italic;transform:scaleX(0.9369);">regarding specifications, dimensions,</div>
<div class="t" style="left:654.80px;top:1517.51px;font-size:17.0px;line-height:17.0px;color:#578dbe;font-weight:700;font-style:italic;transform:scaleX(0.9752);">etc., please consult our website at:</div>
<div class="t" style="left:931.50px;top:1517.51px;font-size:17.0px;line-height:17.0px;color:#578dbe;font-weight:700;font-style:italic;transform:scaleX(0.9722);"><span style="color:#1c5a98">www.torqwrench.com</span>.</div>
</body></html>
